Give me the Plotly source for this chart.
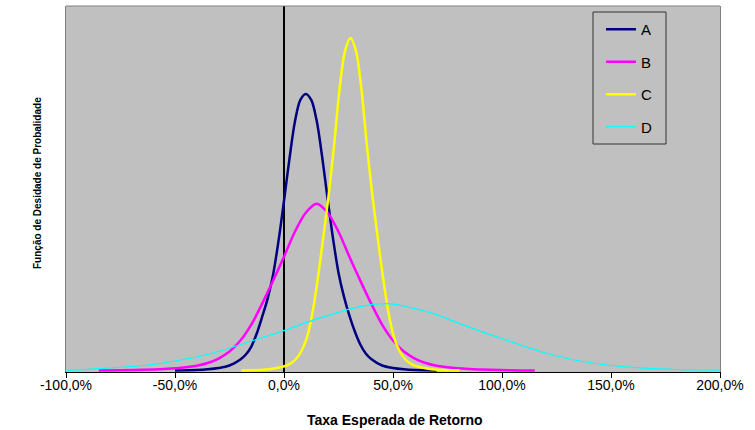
import plotly.graph_objects as go

# ---- data (x in %, y = density in arbitrary units) ----
series_names = ["A", "B", "C", "D"]

a_x = [-50, -40, -35, -30, -25, -20, -17.5, -15, -12.5, -10, -7.5, -5, -2.5, 0, 2.5, 5, 7.5, 10,
       12.5, 15, 17.5, 20, 22.5, 25, 27.5, 30, 32.5, 35, 37.5, 40, 45, 50, 55, 60, 70]
a_y = [0, 0.5, 1.2, 2.5, 5, 11, 16, 24, 37, 54, 72, 96, 130, 170, 212, 249, 271, 277,
       271, 250, 214, 172, 132, 98, 74, 55, 39, 26, 17, 11.5, 5, 2.5, 1.2, 0.5, 0]

b_x = [-85, -65, -55, -45, -40, -35, -30, -25, -20, -15, -10, -5, 0, 5, 10, 15, 20, 25, 30,
       35, 40, 45, 50, 55, 60, 65, 70, 75, 85, 95, 115]
b_y = [0, 0.7, 1.5, 3.2, 4.8, 7.5, 12, 19, 30, 46, 67, 90, 114, 139, 158, 167, 158, 139, 114,
       90, 67, 46, 30, 19, 12, 7.5, 4.8, 3.2, 1.5, 0.7, 0]

c_x = [-19.5, -9.5, -4.5, 0.5, 3, 5.5, 8, 10.5, 13, 15.5, 18, 20.5, 23, 25.5, 28, 30.5, 33,
       35.5, 38, 40.5, 43, 45.5, 48, 50.5, 53, 55.5, 58, 60.5, 65.5, 70.5, 80.5]
c_y = [0, 0.8, 2, 4.5, 7, 11.5, 19.5, 33, 57, 92, 133, 176, 226, 282, 320, 333, 320,
       282, 226, 176, 133, 92, 57, 33, 19.5, 11.5, 7, 4.5, 2, 0.8, 0]

d_x = [-100, -90, -80, -70, -60, -50, -40, -30, -20, -10, 0, 10, 20, 30, 40, 46, 50, 60, 70,
       80, 90, 100, 110, 120, 130, 140, 150, 160, 170, 180, 190, 200]
d_y = [0.3, 1.2, 2.5, 4, 6, 9.5, 13.5, 19, 26, 33, 40, 48, 55, 61.5, 66, 67, 66.5, 62, 56,
       47.5, 39.5, 32, 24.5, 17.5, 12, 8, 5, 3.2, 1.8, 1, 0.5, 0.3]

x_tick_vals = [-100, -50, 0, 50, 100, 150, 200]
x_tick_text = ["-100,0%", "-50,0%", "0,0%", "50,0%", "100,0%", "150,0%", "200,0%"]

x_title = "Taxa Esperada de Retorno"
y_title = "Função de Desidade de Probalidade"

colors = ["#000080", "#FF00FF", "#FFFF00", "#00FFFF"]
widths = [2.5, 2.5, 2.5, 1.2]

FONT = "Liberation Sans, Arial, sans-serif"

# plot-area geometry in pixels (used only to place legend box / titles)
L, R, T, B = 66, 720, 6, 372
PW, PH = R - L, B - T

fig = go.Figure()
for name, xs, ys, col, w in zip(series_names, [a_x, b_x, c_x, d_x], [a_y, b_y, c_y, d_y], colors, widths):
    fig.add_trace(go.Scatter(
        x=xs, y=ys, name=name, mode="lines", legendgroup=name,
        line=dict(color=col, width=w, shape="spline", smoothing=0.9),
    ))

fig.update_layout(
    width=755, height=430,
    margin=dict(l=L, r=755 - R, t=T, b=430 - B),
    paper_bgcolor="white",
    plot_bgcolor="#C0C0C0",
    font=dict(family=FONT, size=13, color="black"),
    showlegend=True,
    legend=dict(
        x=(601 - L) / PW, y=1 - (13 - T) / PH, xanchor="left", yanchor="top",
        bgcolor="rgba(0,0,0,0)", borderwidth=0,
        font=dict(family=FONT, size=15, color="black"),
        traceorder="grouped", tracegroupgap=10,
        itemwidth=30,
    ),
    xaxis=dict(
        range=[-100, 200], tickvals=x_tick_vals, ticktext=x_tick_text,
        showgrid=False, zeroline=True, zerolinecolor="black", zerolinewidth=2,
        showline=True, linecolor="black", linewidth=1,
        ticks="outside", ticklen=5, tickcolor="black", tickwidth=1,
        ticklabelstandoff=-5,
        tickfont=dict(family=FONT, size=14, color="black"),
    ),
    yaxis=dict(
        range=[-1.5, 365], showticklabels=False, showgrid=False, zeroline=False,
        showline=True, linecolor="#808080", linewidth=1, mirror=True, ticks="",
    ),
    shapes=[
        dict(type="line", xref="paper", yref="paper", x0=0, x1=1, y0=1, y1=1,
             line=dict(color="#808080", width=1)),
        dict(type="rect", xref="paper", yref="paper",
             x0=(593 - L) / PW, x1=(666 - L) / PW,
             y0=1 - (144 - T) / PH, y1=1 - (12 - T) / PH,
             line=dict(color="#333333", width=1), fillcolor="rgba(0,0,0,0)"),
    ],
    annotations=[
        dict(text="<b>" + x_title + "</b>", xref="paper", yref="paper",
             x=(395 - L) / PW, y=-(420 - B) / PH, xanchor="center", yanchor="middle",
             showarrow=False, font=dict(family=FONT, size=14, color="black")),
        dict(text="<b>" + y_title + "</b>", xref="paper", yref="paper",
             x=-(L - 37) / PW, y=1 - (183 - T) / PH, xanchor="center", yanchor="middle",
             textangle=-90, showarrow=False, font=dict(family=FONT, size=10, color="black")),
    ],
)

fig.write_html("out.html")
